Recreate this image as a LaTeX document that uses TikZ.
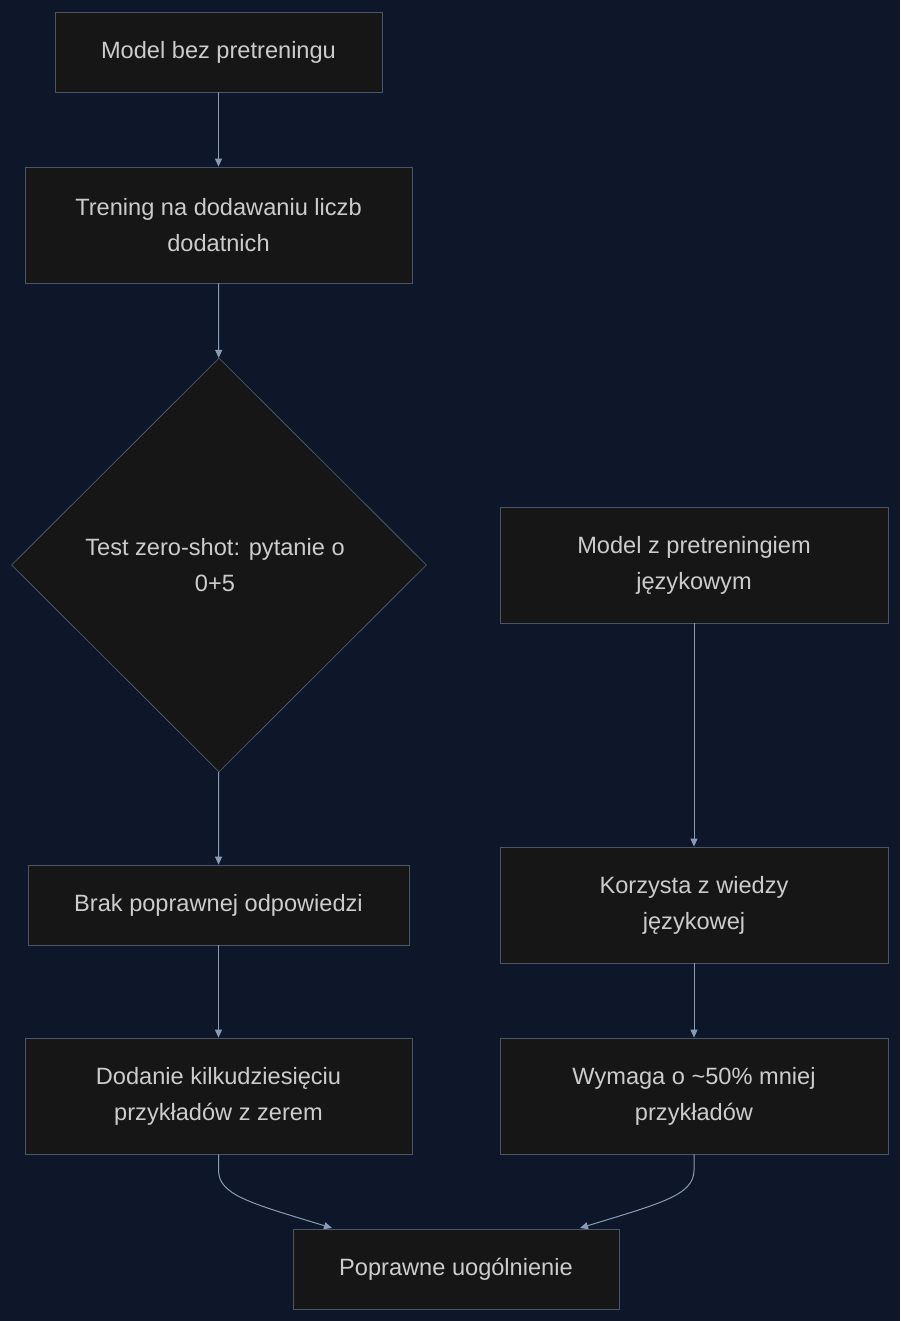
\documentclass[tikz,border=0pt]{standalone}
\usepackage{fontspec}
\setmainfont{Liberation Sans}
\usetikzlibrary{shapes.geometric,arrows.meta}
\definecolor{bg}{HTML}{0E1729}
\definecolor{nf}{HTML}{161616}
\definecolor{nb}{HTML}{4A5568}
\definecolor{tx}{HTML}{CCCCCC}
\definecolor{ar}{HTML}{8A9BB8}
\begin{document}
\begin{tikzpicture}[x=1pt,y=-1pt,
  box/.style={draw=nb,fill=nf,text=tx,line width=0.8pt,align=center,font=\fontsize{23.6}{36}\selectfont,inner sep=0pt},
  dia/.style={box,shape=diamond,minimum width=415pt,minimum height=414pt,aspect=1},
  arr/.style={draw=ar,line width=1pt,-{Triangle[length=8pt,width=7pt]}}]
\fill[bg] (0,0) rectangle (900,1321);
\useasboundingbox (0,0) rectangle (900,1321);
\node[box,minimum width=327pt,minimum height=80pt] (A) at (218.5,52) {Model bez pretreningu};
\node[box,minimum width=387pt,minimum height=116pt] (B) at (218.5,225) {Trening na dodawaniu liczb\\dodatnich};
\node[dia] (T) at (219,565) {};
\node[text=tx,align=center,font=\fontsize{23.6}{36}\selectfont] (Tt) at (215,565) {Test zero-shot: pytanie o\\0+5};
\node[box,minimum width=388pt,minimum height=116pt] (C) at (694,565) {Model z pretreningiem\\językowym};
\node[box,minimum width=381pt,minimum height=80pt] (D) at (218.5,905) {Brak poprawnej odpowiedzi};
\node[box,minimum width=388pt,minimum height=116pt] (E) at (694,905) {Korzysta z wiedzy\\językowej};
\node[box,minimum width=387pt,minimum height=116pt] (F) at (218.5,1096) {Dodanie kilkudziesięciu\\przykładów z zerem};
\node[box,minimum width=388pt,minimum height=116pt] (G) at (694,1096) {Wymaga o \textasciitilde50\% mniej\\przykładów};
\node[box,minimum width=326pt,minimum height=80pt] (H) at (456,1269) {Poprawne uogólnienie};
\draw[arr] (A) -- (B);
\draw[arr] (B) -- (T);
\draw[arr] (T) -- (D);
\draw[arr] (D) -- (F);
\draw[arr] (C) -- (E);
\draw[arr] (E) -- (G);
\coordinate (h1) at (332,1228);
\coordinate (h2) at (580,1228);
\draw[arr] (F.south) -- (218.5,1170) .. controls (218.5,1195) and (250,1203) .. (h1);
\draw[arr] (G.south) -- (694,1170) .. controls (694,1195) and (662,1203) .. (h2);
\end{tikzpicture}
\end{document}
